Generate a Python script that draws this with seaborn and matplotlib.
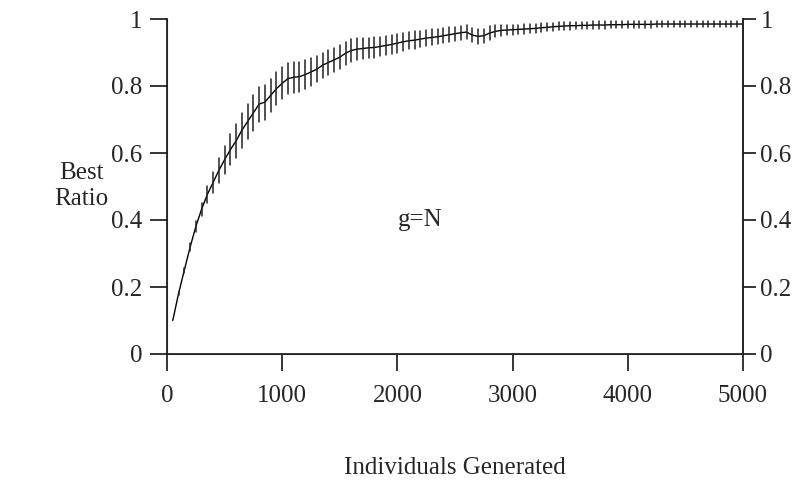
import numpy as np
import pandas as pd
import matplotlib
matplotlib.use("Agg")
import matplotlib.pyplot as plt
import seaborn as sns

# Individuals generated, sampled every 50
individuals = list(range(50, 5001, 50))

# Mean best ratio at each sample point
best_ratio = [
    0.100, 0.180, 0.250, 0.318, 0.380, 0.432, 0.476, 0.512, 0.548, 0.580,
    0.610, 0.636, 0.668, 0.694, 0.720, 0.746, 0.752, 0.772, 0.792, 0.808,
    0.822, 0.826, 0.828, 0.834, 0.842, 0.850, 0.862, 0.870, 0.878, 0.886,
    0.898, 0.906, 0.910, 0.912, 0.914, 0.915, 0.918, 0.921, 0.924, 0.928,
    0.932, 0.935, 0.937, 0.940, 0.943, 0.945, 0.947, 0.950, 0.953, 0.956,
    0.959, 0.961, 0.952, 0.948, 0.950, 0.958, 0.963, 0.966, 0.967, 0.968,
    0.969, 0.970, 0.971, 0.972, 0.974, 0.975, 0.977, 0.978, 0.979, 0.980,
    0.980, 0.981, 0.981, 0.982, 0.982, 0.982, 0.983, 0.983, 0.983, 0.984,
    0.984, 0.984, 0.984, 0.984, 0.985, 0.985, 0.985, 0.985, 0.985, 0.985,
    0.985, 0.985, 0.985, 0.985, 0.985, 0.985, 0.985, 0.985, 0.985, 0.985,
]

# Half-width of the error bar at each sample point
ratio_err = [
    0.000, 0.004, 0.008, 0.012, 0.016, 0.020, 0.026, 0.032, 0.038, 0.042,
    0.046, 0.050, 0.052, 0.053, 0.053, 0.052, 0.052, 0.050, 0.049, 0.048,
    0.047, 0.046, 0.045, 0.043, 0.041, 0.039, 0.038, 0.037, 0.036, 0.035,
    0.034, 0.033, 0.032, 0.031, 0.030, 0.030, 0.029, 0.028, 0.028, 0.028,
    0.027, 0.026, 0.026, 0.025, 0.024, 0.024, 0.023, 0.022, 0.022, 0.021,
    0.021, 0.020, 0.022, 0.022, 0.021, 0.020, 0.018, 0.017, 0.016, 0.015,
    0.014, 0.014, 0.013, 0.013, 0.013, 0.012, 0.012, 0.012, 0.012, 0.012,
    0.011, 0.011, 0.011, 0.011, 0.011, 0.011, 0.011, 0.011, 0.011, 0.011,
    0.010, 0.010, 0.010, 0.010, 0.010, 0.010, 0.010, 0.010, 0.010, 0.010,
    0.010, 0.010, 0.010, 0.010, 0.010, 0.010, 0.010, 0.010, 0.010, 0.010,
]

y_ticks = [0, 0.2, 0.4, 0.6, 0.8, 1]
y_tick_labels = ["0", "0.2", "0.4", "0.6", "0.8", "1"]
x_ticks = [0, 1000, 2000, 3000, 4000, 5000]

# Long table: low / centre / high per x; median + min-max interval draws the bars
x_col = np.repeat(individuals, 3)
lo = np.array(best_ratio) - np.array(ratio_err)
hi = np.array(best_ratio) + np.array(ratio_err)
y_col = np.column_stack([lo, best_ratio, hi]).ravel()
df = pd.DataFrame({"individuals": x_col, "ratio": y_col})

sns.set_style("ticks")
plt.rcParams["font.family"] = ["Liberation Serif", "DejaVu Serif"]
FS = 18

fig = plt.figure(figsize=(8.08, 4.95), dpi=100)
ax = fig.add_axes([167 / 808, 1 - 354 / 495, (743 - 167) / 808, (354 - 19) / 495])

sns.lineplot(data=df, x="individuals", y="ratio", estimator="median",
             errorbar=("pi", 100), err_style="bars", color="black",
             linewidth=1.0, ax=ax,
             err_kws={"elinewidth": 1.1, "ecolor": "#222222", "capsize": 0})

ax.set_xlim(0, 5000)
ax.set_ylim(0, 1)
ax.set_xticks(x_ticks)
ax.set_xticklabels([str(v) for v in x_ticks], fontsize=FS)
ax.set_yticks(y_ticks)
ax.set_yticklabels(y_tick_labels, fontsize=FS)
ax.set_xlabel("")
ax.set_ylabel("")
ax.spines["top"].set_visible(False)
for s in ["left", "right", "bottom"]:
    ax.spines[s].set_linewidth(1.1)
    ax.spines[s].set_color("black")
ax.tick_params(axis="y", direction="out", length=12.5, width=1.1, color="black", pad=5)
ax.tick_params(axis="x", direction="out", length=12.5, width=1.1, color="black", pad=10)

ax2 = ax.twinx()
ax2.set_ylim(0, 1)
ax2.set_yticks(y_ticks)
ax2.set_yticklabels(y_tick_labels, fontsize=FS)
ax2.spines["top"].set_visible(False)
ax2.spines["right"].set_linewidth(1.1)
ax2.tick_params(direction="out", length=9.5, width=1.1, color="black", pad=3)

ax.text(2200, 0.40, "g=N", fontsize=FS, ha="center", va="center")

fig.text(81 / 808, 1 - 186 / 495, "Best\nRatio", fontsize=FS, ha="center",
         va="center", linespacing=1.2)
fig.text(455 / 808, 1 - 468 / 495, "Individuals Generated", fontsize=FS,
         ha="center", va="center")

fig.savefig("out.png", dpi=100)
